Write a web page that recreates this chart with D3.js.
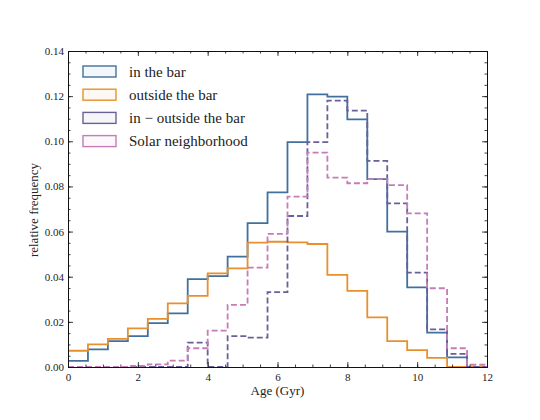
<!DOCTYPE html>
<html>
<head>
<meta charset="utf-8">
<script src="https://cdn.jsdelivr.net/npm/d3@7"></script>
<style>
  body { margin: 0; background: #fff; }
  text { font-family: "Liberation Serif", "DejaVu Serif", serif; fill: #222; }
</style>
</head>
<body>
<svg id="chart" width="540" height="420"></svg>
<script>
// ---- data (21 bins of equal width over 0–12 Gyr) ----
const binCount = 21;
const xRange = [0, 12];
const seriesNames = ["in the bar", "outside the bar", "in \u2212 outside the bar", "Solar neighborhood"];
const inBar = [0.0027, 0.0078, 0.0115, 0.0137, 0.0194, 0.0238, 0.0389, 0.0403, 0.0489, 0.0637, 0.0774,
               0.0996, 0.1208, 0.1198, 0.1097, 0.0832, 0.0600, 0.0353, 0.0152, 0.0043, 0.0];
const outsideBar = [0.0072, 0.0100, 0.0125, 0.0171, 0.0213, 0.0282, 0.0315, 0.0415, 0.0437, 0.0551, 0.0555,
                    0.0552, 0.0545, 0.0408, 0.0337, 0.0220, 0.0115, 0.0075, 0.0040, 0.0, 0.0];
const inMinusOut = [0.0, 0.0, 0.0, 0.0, 0.0, 0.0, 0.0108, 0.0, 0.0137, 0.0130, 0.0332,
                    0.0669, 0.0996, 0.1180, 0.1136, 0.0913, 0.0725, 0.0418, 0.0167, 0.0058, 0.0];
const solar = [0.0, 0.0, 0.0, 0.0005, 0.0012, 0.0028, 0.0083, 0.0161, 0.0275, 0.0440, 0.0590,
               0.0755, 0.0950, 0.0839, 0.0814, 0.0832, 0.0806, 0.0681, 0.0349, 0.0083, 0.0010];
const xTicks = [0, 2, 4, 6, 8, 10, 12];
const yTicks = [0, 0.02, 0.04, 0.06, 0.08, 0.10, 0.12, 0.14];

const seriesValues = [inBar, outsideBar, inMinusOut, solar];
const colors = ["#41709f", "#e8902e", "#6a6098", "#c67cb6"];
const dashes = [null, null, "6,3", "6,3"];

// ---- layout ----
const svg = d3.select("#chart");
const L = 68, R = 487, T = 51, B = 367;
const x = d3.scaleLinear().domain(xRange).range([L, R]);
const y = d3.scaleLinear().domain([0, 0.14]).range([B, T]);

const binW = (xRange[1] - xRange[0]) / binCount;
function stepPoints(vals) {
  const pts = [[xRange[0], 0]];
  vals.forEach((v, i) => {
    const a = xRange[0] + i * binW, b = a + binW;
    pts.push([a, v], [b, v]);
  });
  pts.push([xRange[1], 0]);
  return pts;
}
const line = d3.line().x(d => x(d[0])).y(d => y(d[1]));

const clip = svg.append("clipPath").attr("id", "clip")
  .append("rect").attr("x", L).attr("y", T).attr("width", R - L).attr("height", B - T);

const g = svg.append("g").attr("clip-path", "url(#clip)");
seriesValues.forEach((vals, i) => {
  g.append("path")
    .attr("d", line(stepPoints(vals)))
    .attr("fill", "none")
    .attr("stroke", colors[i])
    .attr("stroke-width", 1.8)
    .attr("stroke-dasharray", dashes[i])
    .attr("stroke-linejoin", "miter");
});

// ---- axes with inward ticks on all sides ----
const fmtY = d3.format(".2f");
const xMinor = d3.range(0, 12.01, 0.5);
const yMinor = d3.range(0, 0.1401, 0.005);

const axB = svg.append("g").attr("transform", `translate(0,${B})`)
  .call(d3.axisBottom(x).tickValues(xTicks).tickSize(-5).tickPadding(6).tickFormat(d3.format("d")));
const axT = svg.append("g").attr("transform", `translate(0,${T})`)
  .call(d3.axisTop(x).tickValues(xTicks).tickSize(-5).tickFormat(""));
const axL = svg.append("g").attr("transform", `translate(${L},0)`)
  .call(d3.axisLeft(y).tickValues(yTicks).tickSize(-5).tickPadding(4).tickFormat(fmtY));
const axR = svg.append("g").attr("transform", `translate(${R},0)`)
  .call(d3.axisRight(y).tickValues(yTicks).tickSize(-5).tickFormat(""));

svg.append("g").attr("transform", `translate(0,${B})`)
  .call(d3.axisBottom(x).tickValues(xMinor).tickSize(-2.5).tickFormat(""));
svg.append("g").attr("transform", `translate(0,${T})`)
  .call(d3.axisTop(x).tickValues(xMinor).tickSize(-2.5).tickFormat(""));
svg.append("g").attr("transform", `translate(${L},0)`)
  .call(d3.axisLeft(y).tickValues(yMinor).tickSize(-2.5).tickFormat(""));
svg.append("g").attr("transform", `translate(${R},0)`)
  .call(d3.axisRight(y).tickValues(yMinor).tickSize(-2.5).tickFormat(""));

svg.selectAll(".domain").attr("stroke", "#111").attr("stroke-width", 1);
svg.selectAll(".tick line").attr("stroke", "#111").attr("stroke-width", 0.8);
svg.selectAll(".tick text").style("font-family", '"Liberation Serif", serif').style("font-size", "11px").attr("fill", "#222");

// axis labels
svg.append("text").attr("x", (L + R) / 2).attr("y", 395).attr("text-anchor", "middle")
  .style("font-size", "13px").text("Age (Gyr)");
svg.append("text").attr("transform", `translate(38,${(T + B) / 2 + 1}) rotate(-90)`)
  .attr("text-anchor", "middle").style("font-size", "13px").text("relative frequency");

// ---- legend ----
const lg = svg.append("g");
seriesNames.forEach((name, i) => {
  const yy = 66 + i * 23.2;
  lg.append("rect").attr("x", 83).attr("y", yy).attr("width", 33).attr("height", 11)
    .attr("fill", colors[i]).attr("fill-opacity", 0.06)
    .attr("stroke", colors[i]).attr("stroke-width", 1.4);
  lg.append("text").attr("x", 129).attr("y", yy + 10.5).style("font-size", "15px").text(name);
});
</script>
</body>
</html>
